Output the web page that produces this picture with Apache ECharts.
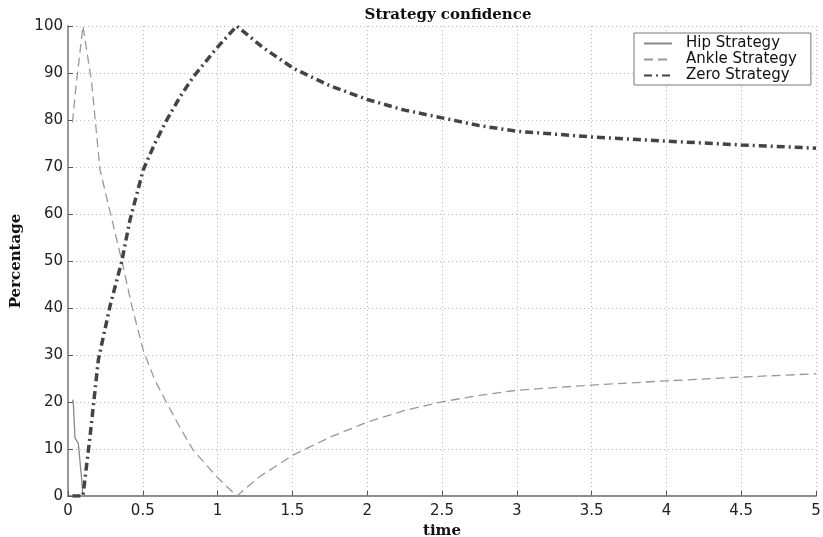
<!DOCTYPE html>
<html>
<head>
<meta charset="utf-8">
<script src="https://cdn.jsdelivr.net/npm/echarts@6/dist/echarts.min.js"></script>
<style>html,body{margin:0;padding:0;background:#fff}#c{width:823px;height:537px}</style>
</head>
<body>
<div id="c"></div>
<script>
var title = 'Strategy confidence';
var xName = 'time';
var yName = 'Percentage';
var seriesNames = ['Hip Strategy', 'Ankle Strategy', 'Zero Strategy'];

var hipX = [0.03, 0.035, 0.047, 0.069, 0.09, 0.1, 1, 2, 3, 4, 5];
var hipY = [20.5, 20, 12.3, 11.2, 4, 0, 0, 0, 0, 0, 0];

var ankleX = [0.03, 0.053, 0.1, 0.158, 0.214, 0.36, 0.43, 0.503, 0.58, 0.66, 0.75, 0.836, 0.994, 1.128, 1.28, 1.504, 1.75, 2.007, 2.25, 2.509, 2.75, 3.0, 3.5, 4.0, 4.5, 5.0];
var ankleY = [79.5, 87, 100, 88, 69.4, 50, 40, 31, 24.7, 19.8, 14.5, 9.8, 4.1, 0, 4.1, 8.7, 12.5, 15.8, 18.2, 20.1, 21.4, 22.5, 23.6, 24.5, 25.3, 26];

var zeroX = [0.03, 0.1, 0.147, 0.203, 0.28, 0.36, 0.414, 0.503, 0.58, 0.66, 0.75, 0.838, 0.994, 1.128, 1.3, 1.506, 1.75, 2.007, 2.25, 2.509, 2.75, 3.0, 3.5, 4.0, 4.5, 5.0];
var zeroY = [0, 0, 12.6, 29, 40.3, 50, 58.7, 69.4, 75, 80, 85, 89.2, 95.3, 100, 95.5, 91, 87.3, 84.3, 82.1, 80.4, 78.8, 77.6, 76.4, 75.5, 74.7, 74];

var xTicks = [0, 0.5, 1, 1.5, 2, 2.5, 3, 3.5, 4, 4.5, 5];
var yTicks = [0, 10, 20, 30, 40, 50, 60, 70, 80, 90, 100];

function pairs(xs, ys) { return xs.map(function (x, i) { return [x, ys[i]]; }); }

var serifBold = { fontFamily: 'DejaVu Serif', fontWeight: 'bold', fontSize: 15, color: '#111' };

var chart = echarts.init(document.getElementById('c'));
chart.setOption({
  animation: false,
  backgroundColor: '#fff',
  title: {
    text: title, left: 443, top: 3, textAlign: 'center',
    textStyle: serifBold
  },
  grid: { left: 68, right: 7, top: 26, bottom: 41, containLabel: false, outerBoundsMode: 'none' },
  legend: {
    orient: 'vertical', left: 634, top: 33,
    backgroundColor: '#fff', borderColor: '#777', borderWidth: 1,
    padding: [3, 14, 2, 9], itemGap: 1, itemWidth: 28, itemHeight: 14,
    itemStyle: { opacity: 0 },
    textStyle: { fontFamily: 'DejaVu Sans', fontSize: 15, color: '#111', padding: [0, 0, 0, 9] },
    data: seriesNames
  },
  xAxis: {
    type: 'value', min: xTicks[0], max: xTicks[xTicks.length - 1], interval: 0.5,
    name: xName, nameLocation: 'middle', nameGap: 23,
    nameTextStyle: serifBold,
    axisLine: { show: true, lineStyle: { color: '#999', width: 2 } },
    axisTick: { show: true, inside: true, length: 5, lineStyle: { color: '#555' } },
    axisLabel: { fontFamily: 'DejaVu Sans', fontSize: 15, color: '#222', margin: 8 },
    splitLine: { show: true, lineStyle: { color: '#bbb', type: [1, 3], width: 1 } }
  },
  yAxis: {
    type: 'value', min: yTicks[0], max: yTicks[yTicks.length - 1], interval: 10,
    name: yName, nameLocation: 'middle', nameGap: 41,
    nameTextStyle: serifBold,
    axisLine: { show: true, lineStyle: { color: '#999', width: 2 } },
    axisTick: { show: true, inside: true, length: 5, lineStyle: { color: '#555' } },
    axisLabel: { fontFamily: 'DejaVu Sans', fontSize: 15, color: '#222', margin: 5 },
    splitLine: { show: true, lineStyle: { color: '#bbb', type: [1, 3], width: 1 } }
  },
  series: [
    { name: seriesNames[0], type: 'line', data: pairs(hipX, hipY), symbol: 'none', z: 3,
      itemStyle: { color: '#999' }, lineStyle: { color: '#888', width: 1.3, type: 'solid' } },
    { name: seriesNames[1], type: 'line', data: pairs(ankleX, ankleY), symbol: 'none', z: 4,
      itemStyle: { color: '#aaa' }, lineStyle: { color: '#999', width: 1.3, type: [9, 5] } },
    { name: seriesNames[2], type: 'line', data: pairs(zeroX, zeroY), symbol: 'none', z: 5,
      itemStyle: { color: '#444' }, lineStyle: { color: '#444', width: 3.5, type: [8, 4, 2, 4] } }
  ]
});
</script>
</body>
</html>
